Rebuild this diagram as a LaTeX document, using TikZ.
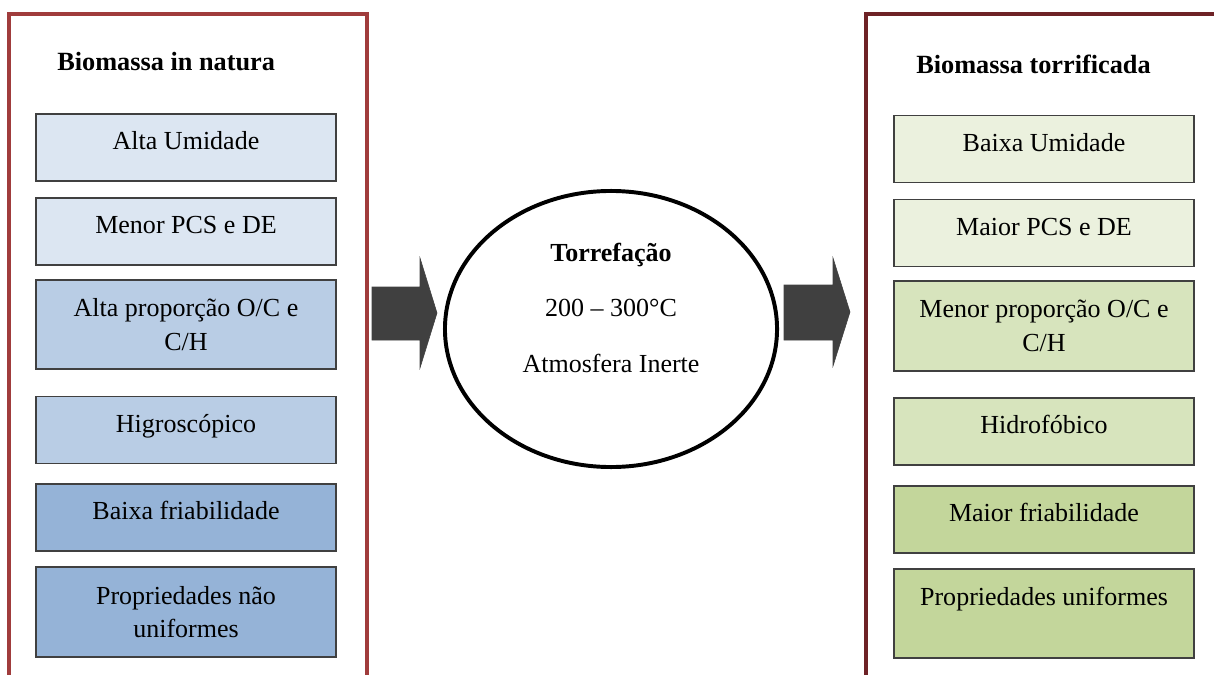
\documentclass[tikz,border=0pt]{standalone}
\usepackage{fontspec}
\setmainfont{Liberation Serif}
\usetikzlibrary{shapes.geometric}

\definecolor{natA}{HTML}{DCE6F2}
\definecolor{natB}{HTML}{B9CDE5}
\definecolor{natC}{HTML}{95B3D7}
\definecolor{torA}{HTML}{EBF1DE}
\definecolor{torB}{HTML}{D7E4BD}
\definecolor{torC}{HTML}{C3D69B}
\definecolor{frameL}{HTML}{A03C3C}
\definecolor{frameR}{HTML}{6E2226}
\definecolor{arrowgray}{HTML}{404040}

\tikzset{
  txt/.style={font=\fontsize{18.5}{24}\selectfont, inner sep=0pt},
  ttl/.style={txt, font=\fontsize{18.7}{24}\selectfont\bfseries, anchor=west},
  prop/.style={txt, draw=arrowgray, line width=1.3pt, align=center,
    minimum width=7.5cm, minimum height=1.675cm, text height=13pt, text depth=10pt},
  bigprop/.style={prop, minimum height=2.24cm, text height=, text depth=},
  blockarrow/.style={fill=arrowgray, draw=arrowgray, line width=0.4pt}
}

\begin{document}
\begin{tikzpicture}[x=0.025cm, y=-0.025cm]

\useasboundingbox (0,0) rectangle (1214,675);

% frames
\draw[frameL, line width=2.2pt] (9,690) -- (9,14) -- (367,14) -- (367,690);
\draw[frameR, line width=2.2pt] (1230,14) -- (866,14) -- (866,690);

% in natura
\node[ttl] (titnat) at (57,62) {Biomassa in natura};
\node[prop, fill=natA] (nat1) at (186,147.5) {Alta Umidade};
\node[prop, fill=natA] (nat2) at (186,231.5) {Menor PCS e DE};
\node[bigprop, fill=natB] (nat3) at (186,324.5) {Alta proporção O/C e\\C/H};
\node[prop, fill=natB] (nat4) at (186,430) {Higroscópico};
\node[prop, fill=natC] (nat5) at (186,517.5) {Baixa friabilidade};
\node[bigprop, fill=natC] (nat6) at (186,612) {Propriedades não\\uniformes};

% torrificada
\node[ttl] (tittor) at (916,64) {Biomassa torrificada};
\node[prop, fill=torA] (tor1) at (1044,149) {Baixa Umidade};
\node[prop, fill=torA] (tor2) at (1044,233) {Maior PCS e DE};
\node[bigprop, fill=torB] (tor3) at (1044,326) {Menor proporção O/C e\\C/H};
\node[prop, fill=torB] (tor4) at (1044,431.5) {Hidrofóbico};
\node[prop, fill=torC] (tor5) at (1044,519.5) {Maior friabilidade};
\node[bigprop, fill=torC] (tor6) at (1044,613.5) {Propriedades uniformes\\\mbox{}};

% reactor
\node[draw, ellipse, line width=2.8pt, minimum width=8.3cm, minimum height=6.9cm] (torref) at (611,329) {};
\node[txt, font=\fontsize{18.5}{24}\selectfont\bfseries] (torname) at (611,255) {Torrefação};
\node[txt] (tortemp) at (611,308) {200 – 300°C};
\node[txt] (toratm) at (611,363) {Atmosfera Inerte};

% block arrows
\filldraw[blockarrow] (372,287) -- (420,287) -- (420,258) -- (437,313) -- (420,368) -- (420,340) -- (372,340) -- cycle;
\filldraw[blockarrow] (784,285) -- (833,285) -- (833,258) -- (850,312) -- (833,366) -- (833,340) -- (784,340) -- cycle;

\end{tikzpicture}
\end{document}
